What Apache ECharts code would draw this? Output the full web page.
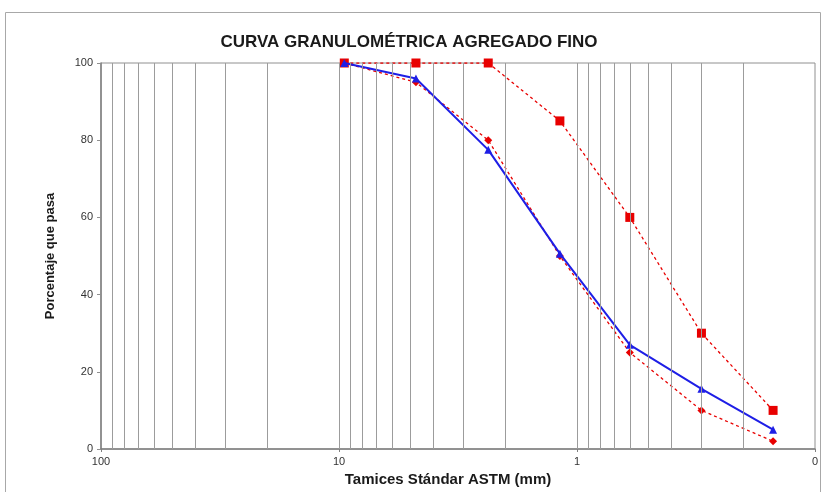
<!DOCTYPE html>
<html>
<head>
<meta charset="utf-8">
<script src="https://cdn.jsdelivr.net/npm/echarts@6/dist/echarts.min.js"></script>
<style>
  html, body { margin: 0; padding: 0; background: #fff; }
  #chart { width: 824px; height: 492px; }
</style>
</head>
<body>
<div id="chart"></div>
<script>
// Sieve openings (mm) and percent passing
const sieves = [9.5, 4.75, 2.36, 1.18, 0.6, 0.3, 0.15];
const upperLimit = [100, 100, 100, 85, 60, 30, 10];
const lowerLimit = [100, 95, 80, 50, 25, 10, 2];
const sample = [100, 96, 77.5, 50.6, 27, 15.6, 5];

// Vertical log-scale grid lines (each decade's 2..9 plus the inner decades)
const gridX = [90, 80, 70, 60, 50, 40, 30, 20, 10, 9, 8, 7, 6, 5, 4, 3, 2, 1,
               0.9, 0.8, 0.7, 0.6, 0.5, 0.4, 0.3, 0.2];
const yTicks = [0, 20, 40, 60, 80, 100];

const FONT = "'Liberation Sans', Arial, sans-serif";
const pairs = (xs, ys) => xs.map((x, i) => [x, ys[i]]);

const chart = echarts.init(document.getElementById('chart'));
chart.setOption({
  animation: false,
  backgroundColor: '#ffffff',
  graphic: [{
    type: 'rect',
    shape: { x: 5.5, y: 12.5, width: 815, height: 490 },
    style: { fill: 'none', stroke: '#a8a8a8', lineWidth: 1 },
    silent: true
  }],
  title: {
    text: 'CURVA GRANULOMÉTRICA AGREGADO FINO',
    left: 404,
    textAlign: 'center',
    top: 29,
    textStyle: { fontFamily: FONT, fontSize: 17, fontWeight: 'bold', color: '#1a1a1a' }
  },
  grid: {
    left: 101, right: 9, top: 63, bottom: 43,
    show: true, borderColor: '#909090', borderWidth: 1, backgroundColor: '#ffffff'
  },
  xAxis: {
    type: 'log',
    logBase: 10,
    min: 0.1,
    max: 100,
    inverse: true,
    name: 'Tamices Stándar ASTM (mm)',
    nameLocation: 'middle',
    nameGap: 17,
    nameTextStyle: { fontFamily: FONT, fontSize: 15, fontWeight: 'bold', color: '#1a1a1a', padding: [0, 20, 0, 0] },
    axisLine: { lineStyle: { color: '#808080', width: 1.5 } },
    axisTick: { show: true, length: 3, lineStyle: { color: '#808080' } },
    axisLabel: {
      fontFamily: FONT, fontSize: 11, color: '#333', margin: 7,
      formatter: v => String(Math.round(v))
    },
    splitLine: { show: false }
  },
  yAxis: {
    type: 'value',
    min: yTicks[0],
    max: yTicks[yTicks.length - 1],
    interval: 20,
    name: 'Porcentaje que pasa',
    nameLocation: 'middle',
    nameRotate: 90,
    nameGap: 44,
    nameTextStyle: { fontFamily: FONT, fontSize: 13, fontWeight: 'bold', color: '#1a1a1a' },
    axisLine: { show: true, lineStyle: { color: '#808080', width: 1.5 } },
    axisTick: { show: true, length: 4, lineStyle: { color: '#909090' } },
    axisLabel: { fontFamily: FONT, fontSize: 11, color: '#333', margin: 8 },
    splitLine: { show: false }
  },
  series: [
    {
      name: 'grid',
      type: 'line',
      data: [],
      silent: true,
      z: 1,
      markLine: {
        silent: true,
        symbol: ['none', 'none'],
        label: { show: false },
        lineStyle: { color: '#9c9c9c', type: 'solid', width: 1 },
        data: gridX.map(v => ({ xAxis: v }))
      }
    },
    {
      name: 'Límite superior',
      type: 'line',
      z: 3,
      data: pairs(sieves, upperLimit),
      symbol: 'rect',
      symbolSize: 9,
      itemStyle: { color: '#e80000' },
      lineStyle: { color: '#e80000', width: 1.3, type: [3, 3] }
    },
    {
      name: 'Límite inferior',
      type: 'line',
      z: 3,
      data: pairs(sieves, lowerLimit),
      symbol: 'diamond',
      symbolSize: 8,
      itemStyle: { color: '#e80000' },
      lineStyle: { color: '#e80000', width: 1.3, type: [3, 3] }
    },
    {
      name: 'Muestra',
      type: 'line',
      z: 4,
      data: pairs(sieves, sample),
      symbol: 'triangle',
      symbolSize: 8,
      itemStyle: { color: '#1e1ee6' },
      lineStyle: { color: '#1e1ee6', width: 2 }
    }
  ]
});
</script>
</body>
</html>
